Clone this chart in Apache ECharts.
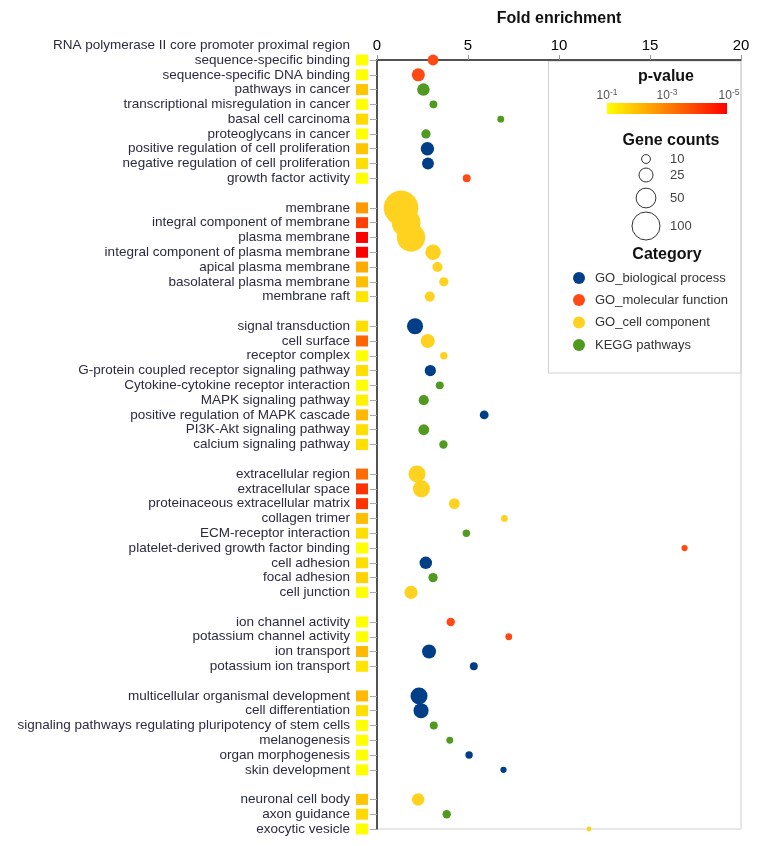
<!DOCTYPE html>
<html><head><meta charset="utf-8">
<script src="https://cdn.jsdelivr.net/npm/echarts@6/dist/echarts.min.js"></script>
<style>html,body{margin:0;padding:0;background:#fff}#c{width:761px;height:846px}</style>
</head><body><div id="c"></div>
<script>
// ---- data (null = blank spacer row between groups) ----
const terms = [
  "RNA polymerase II core promoter proximal region\nsequence-specific binding",
  "sequence-specific DNA binding","pathways in cancer","transcriptional misregulation in cancer",
  "basal cell carcinoma","proteoglycans in cancer","positive regulation of cell proliferation",
  "negative regulation of cell proliferation","growth factor activity",
  null,
  "membrane","integral component of membrane","plasma membrane","integral component of plasma membrane",
  "apical plasma membrane","basolateral plasma membrane","membrane raft",
  null,
  "signal transduction","cell surface","receptor complex","G-protein coupled receptor signaling pathway",
  "Cytokine-cytokine receptor interaction","MAPK signaling pathway","positive regulation of MAPK cascade",
  "PI3K-Akt signaling pathway","calcium signaling pathway",
  null,
  "extracellular region","extracellular space","proteinaceous extracellular matrix","collagen trimer",
  "ECM-receptor interaction","platelet-derived growth factor binding","cell adhesion","focal adhesion","cell junction",
  null,
  "ion channel activity","potassium channel activity","ion transport","potassium ion transport",
  null,
  "multicellular organismal development","cell differentiation",
  "signaling pathways regulating pluripotency of stem cells","melanogenesis","organ morphogenesis","skin development",
  null,
  "neuronal cell body","axon guidance","exocytic vesicle"
];
const termCategory = [
  "MF","MF","KEGG","KEGG","KEGG","KEGG","BP","BP","MF",
  null,
  "CC","CC","CC","CC","CC","CC","CC",
  null,
  "BP","CC","CC","BP","KEGG","KEGG","BP","KEGG","KEGG",
  null,
  "CC","CC","CC","CC","KEGG","MF","BP","KEGG","CC",
  null,
  "MF","MF","BP","BP",
  null,
  "BP","BP","KEGG","KEGG","BP","BP",
  null,
  "CC","KEGG","CC"
];
const foldEnrichment = [
  3.08,2.27,2.55,3.10,6.80,2.69,2.77,2.80,4.93,
  null,
  1.32,1.60,1.87,3.08,3.32,3.67,2.90,
  null,
  2.09,2.79,3.67,2.93,3.45,2.57,5.89,2.57,3.65,
  null,
  2.20,2.44,4.25,7.00,4.91,16.9,2.68,3.08,1.87,
  null,
  4.05,7.24,2.86,5.32,
  null,
  2.31,2.42,3.12,4.00,5.06,6.95,
  null,
  2.26,3.83,11.65
];
const geneCounts = [
  15,22,20,8,6,11,23,18,8,
  null,
  153,105,102,31,13,11,13,
  null,
  33,25,7,16,8,13,10,15,9,
  null,
  37,37,15,6,7,5,20,11,22,
  null,
  9,6,25,8,
  null,
  37,29,8,6,7,5,
  null,
  20,9,3
];
// -log10(p-value)
const negLog10P = [
  1.0,1.0,1.9,1.0,1.6,1.0,1.9,1.5,1.0,
  null,
  2.6,4.0,5.0,5.0,2.3,2.0,1.4,
  null,
  1.5,3.4,1.0,1.5,1.0,1.2,2.1,1.5,1.5,
  null,
  3.3,4.2,4.2,2.0,1.5,1.0,1.5,1.7,1.0,
  null,
  1.0,1.0,2.1,1.4,
  null,
  2.1,1.5,1.0,1.0,1.0,1.0,
  null,
  1.9,1.6,1.0
];
const xTicks = [0, 5, 10, 15, 20];
const categoryKeys = ["BP","MF","CC","KEGG"];
const categoryNames = ["GO_biological process","GO_molecular function","GO_cell component","KEGG pathways"];
const categoryColors = ["#003f87","#ff4a14","#ffd21f","#4f9a1f"];
const sizeLegendCounts = [10, 25, 50, 100];
const pLegendExponents = [-1, -3, -5];

// ---- helpers ----
const sizeOf = c => 2.8 * Math.sqrt(c);
function pColor(v) {
  const t = Math.max(0, Math.min(1, (v - 1) / 4));
  const g = Math.round(255 * (1 - t));
  return 'rgb(255,' + g + ',0)';
}
const slotKeys = terms.map((t, i) => 's' + i);
const rich = {
  t: {fontFamily: 'Liberation Sans, Arial, sans-serif', fontSize: 13.5, color: '#2b2b40', align: 'right', lineHeight: 15},
  sp: {width: 6, align: 'right'},
  pad: {width: 18, align: 'right'}
};
terms.forEach((t, i) => {
  if (t !== null) rich['q' + i] = {width: 12, height: 11, backgroundColor: pColor(negLog10P[i]), align: 'right'};
});

const series = categoryKeys.map((k, ci) => ({
  name: categoryNames[ci],
  type: 'scatter',
  itemStyle: {color: categoryColors[ci], opacity: 1},
  symbolSize: v => sizeOf(v[2]),
  emphasis: {disabled: true},
  data: terms.map((t, i) => t !== null && termCategory[i] === k ? [foldEnrichment[i], i, geneCounts[i]] : null)
              .filter(d => d !== null)
}));

const graphics = [];
const BX = 548.5, BY = 61, BW = 192.5, BH = 312;
graphics.push({type: 'rect', shape: {x: BX, y: BY, width: BW, height: BH},
  style: {fill: 'transparent', stroke: '#d0d0d0', lineWidth: 1}, silent: true});
const hfont = 'bold 16px Liberation Sans, Arial, sans-serif';
graphics.push({type: 'text', x: 666, y: 77, style: {text: 'p-value', font: hfont, fill: '#111', textAlign: 'center', textVerticalAlign: 'middle'}});
graphics.push({type: 'rect', shape: {x: 607, y: 103, width: 120, height: 11},
  style: {fill: new echarts.graphic.LinearGradient(0, 0, 1, 0, [
    {offset: 0, color: pColor(1)}, {offset: 0.5, color: pColor(3)}, {offset: 1, color: pColor(5)}])}});
const pLabelX = [607, 667, 729];
pLegendExponents.forEach((e, i) => {
  graphics.push({type: 'text', x: pLabelX[i], y: 96, style: {
    text: '{a|10}{b|' + e + '}', textAlign: 'center', textVerticalAlign: 'middle',
    rich: {a: {fontSize: 12, fontFamily: 'Liberation Sans, Arial', fill: '#555', color: '#555'},
           b: {fontSize: 8.5, fontFamily: 'Liberation Sans, Arial', fill: '#555', color: '#555', padding: [0, 0, 7, 0]}}}});
});
graphics.push({type: 'text', x: 671, y: 141, style: {text: 'Gene counts', font: hfont, fill: '#111', textAlign: 'center', textVerticalAlign: 'middle'}});
const sizeY = [159, 175, 198, 226];
sizeLegendCounts.forEach((c, i) => {
  graphics.push({type: 'circle', shape: {cx: 646, cy: sizeY[i], r: sizeOf(c) / 2},
    style: {fill: 'transparent', stroke: '#333', lineWidth: 1}});
  graphics.push({type: 'text', x: 670, y: sizeY[i], style: {text: String(c), font: '13px Liberation Sans, Arial, sans-serif', fill: '#444', textVerticalAlign: 'middle'}});
});
graphics.push({type: 'text', x: 667, y: 255, style: {text: 'Category', font: hfont, fill: '#111', textAlign: 'center', textVerticalAlign: 'middle'}});
const catY = [278, 300, 322.5, 345];
categoryNames.forEach((n, i) => {
  graphics.push({type: 'circle', shape: {cx: 579, cy: catY[i], r: 6}, style: {fill: categoryColors[i]}});
  graphics.push({type: 'text', x: 595, y: catY[i], style: {text: n, font: '13px Liberation Sans, Arial, sans-serif', fill: '#333', textVerticalAlign: 'middle'}});
});

const chart = echarts.init(document.getElementById('c'), null, {renderer: 'canvas'});
chart.setOption({
  animation: false,
  backgroundColor: '#fff',
  grid: {left: 377, right: 20, top: 60, bottom: 17, show: true, borderColor: '#d0d0d0', borderWidth: 1},
  xAxis: {
    type: 'value', position: 'top', min: xTicks[0], max: xTicks[xTicks.length - 1], interval: xTicks[1] - xTicks[0],
    name: 'Fold enrichment', nameLocation: 'middle', nameGap: 33,
    nameTextStyle: {fontWeight: 'bold', fontSize: 16, color: '#111', fontFamily: 'Liberation Sans, Arial, sans-serif'},
    axisLine: {show: true, lineStyle: {color: '#222', width: 1.5}},
    axisTick: {show: true, length: 5, lineStyle: {color: '#999'}},
    axisLabel: {fontSize: 15, color: '#000', margin: 7, fontFamily: 'Liberation Sans, Arial, sans-serif'},
    splitLine: {show: false}
  },
  yAxis: {
    type: 'category', data: slotKeys, inverse: true, boundaryGap: false,
    axisLine: {show: true, lineStyle: {color: '#222', width: 1.5}},
    axisTick: {show: true, length: 7, lineStyle: {color: '#aaa'}, interval: (idx) => terms[idx] !== null},
    axisLabel: {
      interval: 0, margin: 9, rich: rich,
      formatter: (val, idx) => {
        const t = terms[idx];
        if (t === null) return '';
        const lines = t.split('\n');
        const last = '{t|' + lines[lines.length - 1] + '}{sp|}{q' + idx + '|}';
        if (lines.length === 1) return last;
        const pre = lines.slice(0, -1).map(l => '{t|' + l + '}{pad|}').join('\n');
        return pre + '\n' + last + '\n{t| }';
      }
    },
    splitLine: {show: false}
  },
  series: series,
  graphic: graphics
});
</script>
</body></html>
